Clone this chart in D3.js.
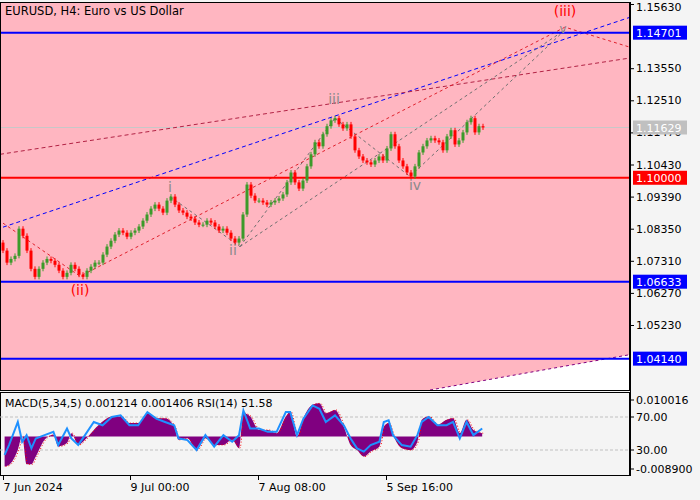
<!DOCTYPE html>
<html><head><meta charset="utf-8">
<script src="https://cdn.jsdelivr.net/npm/d3@7/dist/d3.min.js"></script>
<style>body{margin:0;background:#f4f4f4}svg{display:block;font-family:"DejaVu Sans",sans-serif}</style>
</head><body><svg id="c" width="700" height="500"></svg>
<script>
const closes=[1.0764,1.0725,1.0737,1.0747,1.0835,1.0812,1.0764,1.0705,1.0679,1.0705,1.0725,1.0737,1.0731,1.0718,1.0699,1.0679,1.0692,1.0718,1.0705,1.0686,1.0679,1.0699,1.0712,1.0725,1.0725,1.0751,1.0777,1.0796,1.0816,1.0829,1.0822,1.0809,1.0822,1.0829,1.0842,1.0861,1.0881,1.0900,1.0913,1.0900,1.0887,1.0926,1.0939,1.0913,1.0894,1.0887,1.0874,1.0868,1.0855,1.0848,1.0848,1.0861,1.0855,1.0842,1.0829,1.0835,1.0822,1.0803,1.0790,1.0803,1.0881,1.0978,1.0942,1.0926,1.0926,1.0920,1.0913,1.0920,1.0926,1.0933,1.0946,1.0985,1.1017,1.0985,1.0965,1.0991,1.1037,1.1076,1.1115,1.1102,1.1141,1.1167,1.1186,1.1193,1.1173,1.1160,1.1173,1.1134,1.1089,1.1069,1.1056,1.1050,1.1043,1.1056,1.1069,1.1056,1.1095,1.1141,1.1102,1.1056,1.1037,1.1017,1.1004,1.1037,1.1082,1.1102,1.1121,1.1128,1.1121,1.1115,1.1089,1.1134,1.1154,1.1108,1.1121,1.1147,1.1180,1.1193,1.1147,1.1167,1.1163];
const firstOpen=1.0790;
const priceTicks=[1.15630,1.13550,1.12510,1.11470,1.10430,1.09390,1.08350,1.07310,1.06270,1.05230];
const levels=[{v:1.14701,c:"#0000ff"},{v:1.10000,c:"#ff0000"},{v:1.06633,c:"#0000ff"},{v:1.04140,c:"#0000ff"}];
const currentPrice=1.11629;
const dateLabels=["7 Jun 2024","9 Jul 00:00","7 Aug 08:00","5 Sep 16:00"];
const dateIdx=[0,31.75,63.75,95.75];
const indIdx=[0.4,1.5,3.7,4.8,5.9,7.1,8.2,10.4,12.6,13.8,16.0,17.1,18.8,20.5,22.7,24.9,27.2,29.4,31.6,33.8,36.1,38.3,40.5,42.8,43.9,46.1,48.4,50.6,52.8,55.1,57.3,59.0,60.1,61.8,64.0,66.2,68.4,70.7,71.8,73.5,75.1,77.4,79.1,80.7,83.0,85.2,86.9,88.5,90.2,91.9,94.1,95.2,96.4,97.5,99.7,101.9,103.6,104.7,106.4,108.6,110.9,112.5,114.2,115.9,117.6,119.8];
const macd=[-0.0082,-0.0078,-0.0037,0,-0.0076,-0.0076,-0.0055,-0.0009,0.0005,-0.0027,-0.0018,0.0009,-0.0023,-0.0009,0.0018,0.0041,0.0055,0.0055,0.0037,0.0037,0.0064,0.0050,0.0050,0.0027,-0.0009,-0.0005,-0.0037,-0.0005,-0.0023,-0.0023,-0.0009,-0.0032,0.0064,0.0055,0.0018,0.0018,0.0009,0.0055,0.0068,0,0.0050,0.0087,0.0091,0.0064,0.0073,0.0027,-0.0023,-0.0037,-0.0055,-0.0041,-0.0027,0.0027,0.0037,0.0005,-0.0032,-0.0037,-0.0014,0.0046,0.0055,0.0032,0.0046,0.0050,0.0009,0.0046,0.0018,0.0009];
const rsi=[24,36,64,40,48,32,44,48,52,36,56,44,36,48,64,60,70,72,60,60,76,68,64,60,44,42,30,48,34,48,40,48,78,56,56,52,52,76,76,48,68,84,80,64,72,60,44,32,28,36,40,64,66,48,36,34,48,64,70,60,60,64,44,64,48,56];
const blueDash=[[0,1.0840],[156.75,1.1520]];
const brownDash=[[-0.75,1.1076],[156.75,1.1388]];
const redDash=[[0,1.0853],[19.25,1.0681],[140.5,1.1488],[156.75,1.1423]];
const grayDash=[[[41.75,1.0939],[59.25,1.0777]],[[59.25,1.0777],[83,1.1193]],[[83,1.1193],[101.75,1.1004]],[[101.75,1.1004],[140.5,1.1479]],[[59.25,1.0777],[140.5,1.1479]]];
const waves=[{t:"i",i:41.75,p:1.0955,c:"#8a8a8a",s:14},{t:"ii",i:57.5,p:1.0750,c:"#8a8a8a",s:14},{t:"iii",i:82.75,p:1.1240,c:"#8a8a8a",s:14},{t:"iv",i:103,p:1.0960,c:"#8a8a8a",s:14},{t:"v",i:140,p:1.1468,c:"#8a8a8a",s:12},{t:"(iii)",i:140.5,p:1.1525,c:"#ff0000",s:14},{t:"(ii)",i:19.25,p:1.0620,c:"#ff0000",s:14}];

const svg=d3.select("#c");
const L=0,R=630,T=2,B=390;
const x=d3.scaleLinear().domain([0,120]).range([3,483]);
const y=d3.scaleLinear().domain([1.15630,1.05230]).range([4,325]);
svg.append("rect").attr("x",L).attr("y",T).attr("width",R-L).attr("height",B-T).attr("fill","#ffb6c1");
const wedge=[[106.75,y.invert(B)],[156.75,1.0427],[156.75,y.invert(B)]];
svg.append("path").attr("d",d3.line(d=>x(d[0]),d=>y(d[1]))(wedge)).attr("fill","#ffffff");
svg.append("path").attr("d",d3.line(d=>x(d[0]),d=>y(d[1]))([[106.75,y.invert(B)],[156.75,1.0427]])).attr("stroke","#800080").attr("stroke-dasharray","3,3").attr("fill","none");
svg.append("line").attr("x1",L).attr("x2",R).attr("y1",y(currentPrice)).attr("y2",y(currentPrice)).attr("stroke","#c8c8c8");
const ln=d3.line(d=>x(d[0]),d=>y(d[1]));
const dl=(pts,c,da)=>svg.append("path").attr("d",ln(pts)).attr("fill","none").attr("stroke",c).attr("stroke-width",1).attr("stroke-dasharray",da);
dl(blueDash,"#0000ff","4,3");dl(brownDash,"#b22244","4,3");dl(redDash,"#e0202c","3,3");
grayDash.forEach(g=>dl(g,"#707070","3,3"));
levels.forEach(l=>svg.append("line").attr("x1",L).attr("x2",R).attr("y1",y(l.v)).attr("y2",y(l.v)).attr("stroke",l.c).attr("stroke-width",2));
const g=svg.append("g");
closes.forEach((c,i)=>{const o=i?closes[i-1]:firstOpen;const hi=Math.max(o,c)+0.0008,lo=Math.min(o,c)-0.0008;const col=c>=o?"#3c9a2a":"#ff0000";
 g.append("line").attr("x1",x(i)).attr("x2",x(i)).attr("y1",y(hi)).attr("y2",y(lo)).attr("stroke",col);
 g.append("rect").attr("x",x(i)-1.5).attr("width",3).attr("y",y(Math.max(o,c))).attr("height",Math.max(1,Math.abs(y(o)-y(c)))).attr("fill",col);});
waves.forEach(w=>svg.append("text").attr("x",x(w.i)).attr("y",y(w.p)).attr("text-anchor","middle").attr("fill",w.c).attr("font-size",w.s).text(w.t));
svg.append("rect").attr("x",L+0.5).attr("y",T+0.5).attr("width",R-L-1).attr("height",B-T).attr("fill","none").attr("stroke","#000");
svg.append("text").attr("x",5).attr("y",15).attr("font-size",11.5).text("EURUSD, H4:  Euro vs US Dollar");
const ax=svg.append("g").attr("transform",`translate(${R},0)`).call(d3.axisRight(y).tickValues(priceTicks).tickFormat(d3.format(".5f")).tickSize(4).tickPadding(2));
ax.select(".domain").remove();ax.selectAll("text").attr("font-size",11).attr("fill","#000").attr("font-family","DejaVu Sans").attr("dy",d=>d===1.1563?"0.6em":"0.32em");
const tags=[{v:1.14701,bg:"#0000ff",fg:"#fff"},{v:currentPrice,bg:"#c0c0c0",fg:"#fff"},{v:1.10000,bg:"#ff0000",fg:"#fff"},{v:1.06633,bg:"#0000ff",fg:"#fff"},{v:1.04140,bg:"#0000ff",fg:"#fff"}];
tags.forEach(t=>{svg.append("rect").attr("x",R+3).attr("y",y(t.v)-7).attr("width",54).attr("height",14).attr("fill",t.bg);
 svg.append("text").attr("x",R+6).attr("y",y(t.v)+4.5).attr("font-size",11).attr("fill",t.fg).text(d3.format(".5f")(t.v));});
svg.append("line").attr("x1",R+0.5).attr("x2",R+0.5).attr("y1",T).attr("y2",476).attr("stroke","#000");
const PT=392,PB=476;
svg.append("rect").attr("x",L+0.5).attr("y",PT+0.5).attr("width",R-L-1).attr("height",PB-PT-1).attr("fill","#f4f4f4").attr("stroke","#000");
const ym=d3.scaleLinear().domain([-0.0089,0.010016]).range([469,400]);
const yr=d3.scaleLinear().domain([30,70]).range([450,417]);
[70,30].forEach(v=>svg.append("line").attr("x1",L).attr("x2",R).attr("y1",yr(v)).attr("y2",yr(v)).attr("stroke","#c0c0c0").attr("stroke-dasharray","3,2"));
svg.append("path").datum(macd).attr("d",d3.area().x((d,i)=>x(indIdx[i])).y0(ym(0)).y1(d=>ym(d)).curve(d3.curveMonotoneX)).attr("fill","#800080");
svg.append("path").datum(macd).attr("d",d3.line().x((d,i)=>x(indIdx[i])+1).y(d=>ym(d)).curve(d3.curveMonotoneX)).attr("fill","none").attr("stroke","#ff0000").attr("stroke-dasharray","1,2");
svg.append("path").datum(rsi).attr("d",d3.line().x((d,i)=>x(indIdx[i])).y(d=>yr(d))).attr("fill","none").attr("stroke","#1e90ff").attr("stroke-width",2);
svg.append("text").attr("x",5).attr("y",407).attr("font-size",11).text("MACD(5,34,5) 0.001214 0.001406 RSI(14) 51.58");
const it=[{y:ym(0.010016),t:"0.010016"},{y:yr(70),t:"70.00"},{y:yr(30),t:"30.00"},{y:ym(-0.0089),t:"-0.008900"}];
it.forEach(d=>{svg.append("line").attr("x1",R).attr("x2",R+4).attr("y1",d.y).attr("y2",d.y).attr("stroke","#000");
 svg.append("text").attr("x",R+6).attr("y",d.y+4).attr("font-size",11).text(d.t);});
const xa=svg.append("g").attr("transform",`translate(0,${PB})`).call(d3.axisBottom(x).tickValues(dateIdx).tickFormat((d,i)=>dateLabels[i]).tickSize(4).tickPadding(3));
xa.select(".domain").remove();xa.selectAll("text").attr("text-anchor","start").attr("font-size",11).attr("fill","#000").attr("font-family","DejaVu Sans");
</script></body></html>
